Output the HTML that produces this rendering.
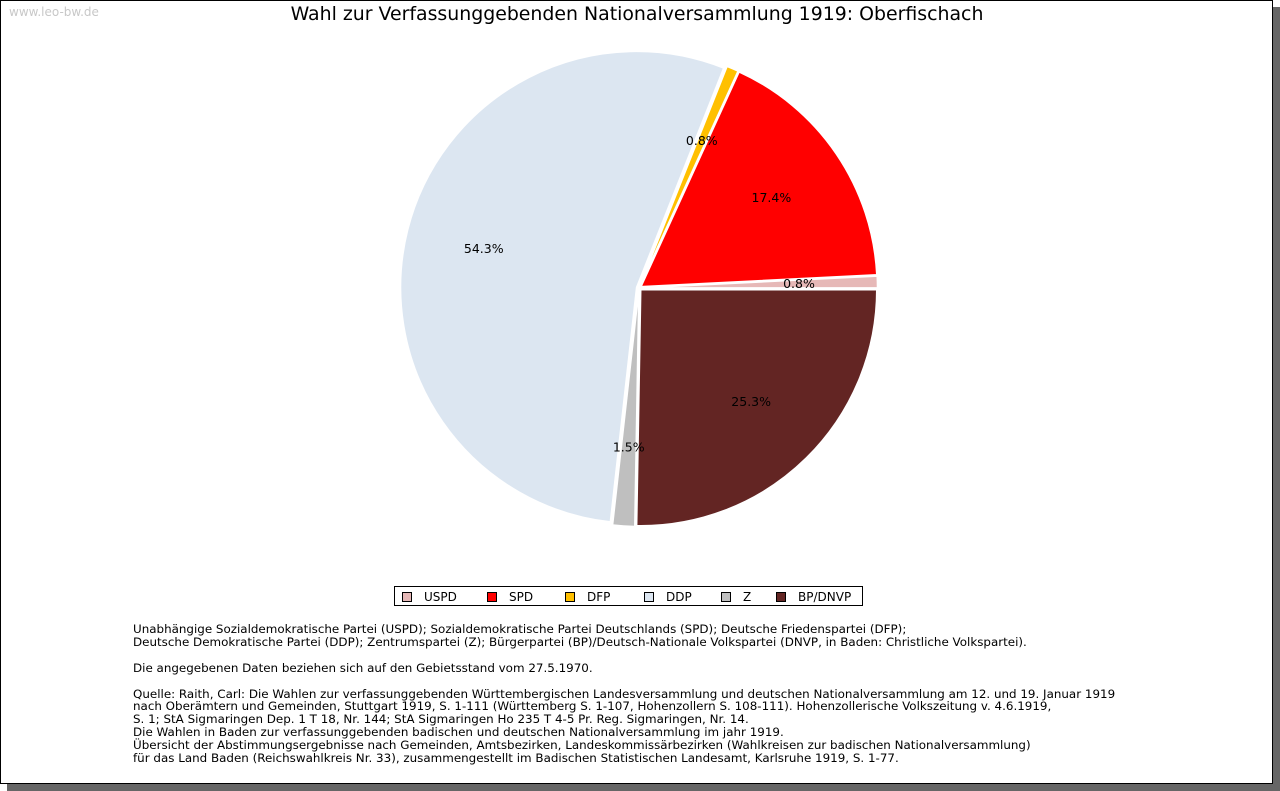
<!DOCTYPE html>
<html><head><meta charset="utf-8"><style>
body{margin:0;width:1280px;height:791px;background:#fff;position:relative;overflow:hidden;font-family:"DejaVu Sans","Liberation Sans",sans-serif}
#shadow{position:absolute;left:7px;top:7px;width:1273px;height:784px;background:#666}
#frame{position:absolute;left:0;top:0;width:1273px;height:784px;background:#fff;border:1px solid #000;box-sizing:border-box}
#wm{position:absolute;left:9px;top:5px;font-size:12px;color:#c8c8c8}
#title{position:absolute;left:0;width:1274px;top:3px;text-align:center;font-size:18.9px;color:#000}
svg{position:absolute;left:0;top:0}
#legend{position:absolute;left:394px;top:586px;width:469px;height:20px;border:1px solid #000;box-sizing:border-box;font-size:12px}
.li{position:absolute;top:3px;white-space:nowrap}
.sw{display:inline-block;width:10px;height:10px;border:1px solid #000;vertical-align:-1px;margin-right:12px;box-sizing:border-box}
#notes{position:absolute;left:133px;top:623px;font-size:11.9px;line-height:12.9px;color:#000;white-space:pre}
</style></head><body>
<div id="shadow"></div>
<div id="frame"></div>
<div id="wm">www.leo-bw.de</div>
<div id="title">Wahl zur Verfassunggebenden Nationalversammlung 1919: Oberfischach</div>
<svg id="pie" width="1280" height="791"></svg>
<div id="legend">
<span class="li" style="left:7px"><span class="sw" style="background:#e6b8b7"></span>USPD</span>
<span class="li" style="left:92px"><span class="sw" style="background:#ff0000"></span>SPD</span>
<span class="li" style="left:170px"><span class="sw" style="background:#ffc000"></span>DFP</span>
<span class="li" style="left:249px"><span class="sw" style="background:#dce6f1"></span>DDP</span>
<span class="li" style="left:326px"><span class="sw" style="background:#bfbfbf"></span>Z</span>
<span class="li" style="left:381px"><span class="sw" style="background:#632523"></span>BP/DNVP</span>
</div>
<div id="notes">Unabhängige Sozialdemokratische Partei (USPD); Sozialdemokratische Partei Deutschlands (SPD); Deutsche Friedenspartei (DFP);
Deutsche Demokratische Partei (DDP); Zentrumspartei (Z); Bürgerpartei (BP)/Deutsch-Nationale Volkspartei (DNVP, in Baden: Christliche Volkspartei).

Die angegebenen Daten beziehen sich auf den Gebietsstand vom 27.5.1970.

Quelle: Raith, Carl: Die Wahlen zur verfassunggebenden Württembergischen Landesversammlung und deutschen Nationalversammlung am 12. und 19. Januar 1919
nach Oberämtern und Gemeinden, Stuttgart 1919, S. 1-111 (Württemberg S. 1-107, Hohenzollern S. 108-111). Hohenzollerische Volkszeitung v. 4.6.1919,
S. 1; StA Sigmaringen Dep. 1 T 18, Nr. 144; StA Sigmaringen Ho 235 T 4-5 Pr. Reg. Sigmaringen, Nr. 14.
Die Wahlen in Baden zur verfassunggebenden badischen und deutschen Nationalversammlung im jahr 1919.
Übersicht der Abstimmungsergebnisse nach Gemeinden, Amtsbezirken, Landeskommissärbezirken (Wahlkreisen zur badischen Nationalversammlung)
für das Land Baden (Reichswahlkreis Nr. 33), zusammengestellt im Badischen Statistischen Landesamt, Karlsruhe 1919, S. 1-77.</div>
<script>
const categories=["USPD","SPD","DFP","DDP","Z","BP/DNVP"];
const values=[0.8,17.4,0.8,54.3,1.5,25.3];
const labels=["0.8%","17.4%","0.8%","54.3%","1.5%","25.3%"];
const colors=["#e6b8b7","#ff0000","#ffc000","#dce6f1","#bfbfbf","#632523"];
const svg=document.getElementById('pie');
const NS="http://www.w3.org/2000/svg";
const cx=639,cy=288,r=236,ex=2.5;
const total=values.reduce((a,b)=>a+b,0);
let acc=0;
values.forEach((v,i)=>{
  const a0=acc/total*2*Math.PI, a1=(acc+v)/total*2*Math.PI, am=(a0+a1)/2;
  acc+=v;
  const ox=cx+ex*Math.cos(am), oy=cy-ex*Math.sin(am);
  const x0=ox+r*Math.cos(a0), y0=oy-r*Math.sin(a0);
  const x1=ox+r*Math.cos(a1), y1=oy-r*Math.sin(a1);
  const large=(a1-a0)>Math.PI?1:0;
  const p=document.createElementNS(NS,'path');
  p.setAttribute('d',`M${ox},${oy}L${x0},${y0}A${r},${r} 0 ${large} 0 ${x1},${y1}Z`);
  p.setAttribute('fill',colors[i]);
  p.setAttribute('stroke','#fff');
  p.setAttribute('stroke-width','1.5');
  
  
  svg.appendChild(p);
});
acc=0;
values.forEach((v,i)=>{
  const am=(acc+v/2)/total*2*Math.PI; acc+=v;
  const t=document.createElementNS(NS,'text');
  t.setAttribute('x',cx+160*Math.cos(am));
  t.setAttribute('y',cy-160*Math.sin(am)+4);
  t.setAttribute('text-anchor','middle');
  t.setAttribute('font-size','12.5');
  t.setAttribute('font-family','DejaVu Sans, sans-serif');
  t.textContent=labels[i];
  
  
  svg.appendChild(t);
});
</script>
</body></html>
